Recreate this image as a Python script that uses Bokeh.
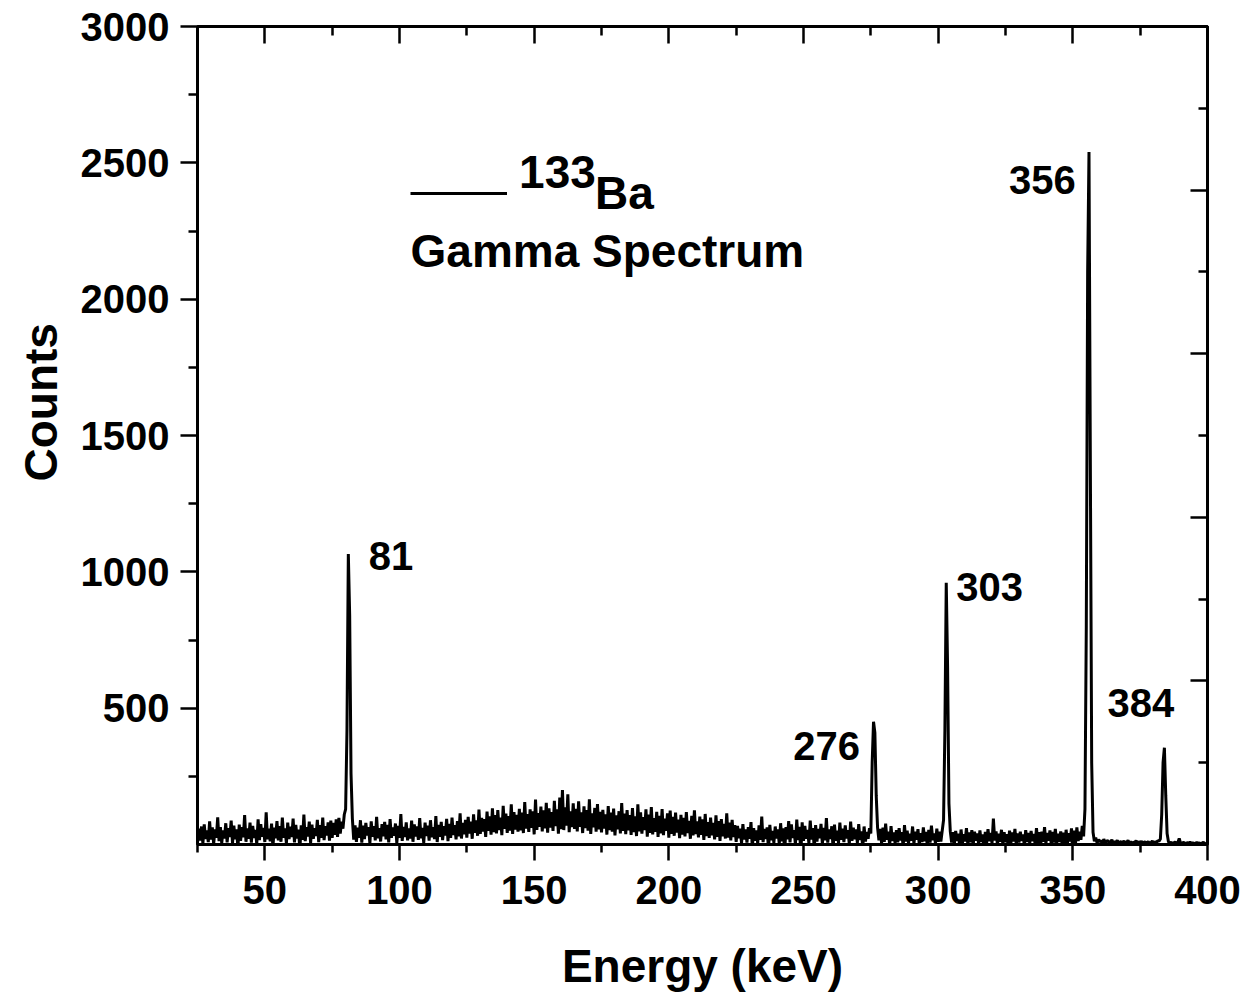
from bokeh.plotting import figure
from bokeh.models import Range1d, LinearAxis, FixedTicker, Label, Legend, LegendItem, Title
from bokeh.embed import file_html
from bokeh.resources import INLINE

FONT = "Liberation Sans"

# 133Ba gamma spectrum: counts per 0.5 keV channel, first channel at 25 keV
E_START = 25.0
E_STEP = 0.5
counts = [
    6, 58, 14, 66, 3, 74, 20, 52, 9, 85, 18, 63, 2, 55, 25, 100, 12, 64, 5, 52,
    22, 78, 8, 60, 27, 88, 4, 69, 19, 56, -14, 73, 13, 64, 26, 108, 10, 59, 21, 80,
    7, 68, 24, 54, 1, 92, 16, 75, 28, 61, 9, 118, 19, 58, 12, 77, -10, 62, 23, 86,
    15, 67, 10, 99, 25, 59, 4, 80, 20, 65, 27, 95, 8, 72, 22, 55, -18, 70, 17, 110,
    12, 64, 29, 84, 6, 73, 21, 60, 31, 90, 9, 71, 24, 99, 16, 67, 33, 81, 14, 88,
    24, 79, 35, 92, 28, 98, 40, 84, 58, 110, 130, 420, 1065, 840, 260, 95, 18, 70, 10, 62,
    25, 89, 7, 69, 20, 79, 33, 64, 4, 85, 28, 67, 15, 101, 23, 60, 11, 75, 30, 83,
    19, 72, 8, 93, 25, 63, 32, 77, 5, 68, 24, 112, 13, 65, 27, 81, 15, 59, 22, 88,
    10, 74, 29, 66, 17, 97, 23, 61, 6, 80, 31, 69, 14, 89, 26, 64, 20, 104, 9, 72,
    28, 83, 16, 67, 33, 94, 12, 76, 24, 99, 35, 71, 19, 86, 30, 114, 22, 79, 37, 90,
    25, 101, 40, 84, 21, 111, 43, 88, 32, 128, 39, 98, 47, 93, 28, 121, 50, 103, 36, 133,
    45, 108, 41, 126, 53, 99, 34, 142, 57, 113, 43, 104, 51, 147, 39, 119, 55, 109, 47, 131,
    52, 117, 42, 156, 58, 111, 46, 129, 61, 122, 37, 165, 54, 115, 65, 139, 48, 125, 59, 153,
    43, 133, 62, 119, 50, 160, 67, 129, 40, 172, 56, 200, 53, 136, 69, 184, 45, 122, 64, 151,
    57, 131, 48, 158, 65, 118, 42, 140, 60, 126, 51, 166, 39, 114, 63, 134, 47, 148, 55, 120,
    44, 127, 58, 111, 36, 141, 53, 117, 47, 132, 33, 107, 56, 122, 41, 152, 50, 113, 38, 126,
    52, 108, 35, 134, 45, 103, 31, 147, 48, 118, 40, 100, 53, 129, 29, 110, 43, 137, 37, 97,
    46, 120, 28, 105, 41, 130, 34, 95, 50, 114, 25, 124, 39, 101, 32, 117, 44, 91, 23, 109,
    36, 98, 30, 119, 42, 87, 21, 105, 33, 125, 38, 85, 26, 102, 35, 92, 17, 112, 31, 82,
    24, 99, 34, 79, 19, 107, 28, 86, 13, 93, 30, 76, 22, 114, 25, 80, 15, 90, 27, 71,
    10, 68, 23, 58, 4, 75, 18, 55, 7, 64, 21, 82, -14, 60, 14, 52, 3, 70, 17, 102,
    9, 57, 20, 63, -22, 72, 15, 50, 6, 66, 22, 55, 1, 78, 12, 59, -30, 64, 19, 86,
    8, 74, 24, 53, 0, 91, 16, 65, -38, 81, 13, 68, 21, 54, 5, 88, 18, 60, -16, 71,
    11, 57, 23, 76, 2, 61, 15, 97, 7, 55, 20, 67, -19, 73, 14, 51, 4, 80, 17, 58,
    9, 70, 22, 53, 1, 84, 13, 62, 19, 55, 6, 75, 16, 48, -12, 66, 11, 46, 21, 60,
    40, 300, 450, 410, 180, 62, 15, 57, 3, 62, 10, 77, 17, 47, -2, 67, 13, 44, 5, 53,
    8, 60, 15, 45, -9, 71, 11, 51, 4, 40, 14, 66, 2, 47, 17, 56, -3, 42, 9, 63,
    12, 46, -10, 54, 7, 69, 16, 41, 3, 58, 10, 47, 11, 50, 90, 420, 960, 650, 150, 48,
    7, 45, 0, 50, 13, 40, -8, 55, 5, 38, 11, 60, 1, 44, 8, 53, -3, 47, 14, 41,
    3, 52, 9, 37, -13, 46, 6, 56, 12, 42, 4, 95, 15, 48, -1, 40, 10, 54, 2, 45,
    8, 38, -7, 51, 5, 44, 11, 57, 0, 41, 7, 47, 13, 37, -4, 53, 9, 42, 4, 50,
    12, 39, 1, 60, 6, 45, -11, 47, 10, 64, 3, 42, 14, 52, -2, 46, 7, 57, 5, 40,
    9, 48, 2, 44, -26, 54, 6, 41, 11, 59, -35, 51, 4, 63, 13, 47, 17, 68, 30, 130,
    800, 2100, 2540, 1400, 300, 45, 12, 25, 6, 18, 10, 14, 3, 20, 8, 11, 15, 5, 9, 17,
    4, 12, 7, 16, 2, 10, 9, 6, 13, 3, 8, 15, 5, 11, 1, 9, 7, 14, 4, 10,
    6, 12, 3, 9, 8, 5, 11, 2, 7, 13, 4, 10, 6, 14, 12, 20, 110, 300, 355, 180,
    40, 10, 5, 8, 3, 6, 9, 4, 7, 22, 5, 3, 8, 6, 2, 7, 5, 9, 4, 6,
    3, 5, 7, 4, 6, 2, 5, 8, 4, 3, 5,
]
energy = [E_START + E_STEP * i for i in range(len(counts))]

# photopeak energies (keV) written next to each line
peak_labels = ["81", "276", "303", "356", "384"]

x_major = [50, 100, 150, 200, 250, 300, 350, 400]
x_minor = [25, 75, 125, 175, 225, 275, 325, 375]
y_major = [500, 1000, 1500, 2000, 2500, 3000]
y_minor = [250, 750, 1250, 1750, 2250, 2750]
frame_major = [0, 2, 4, 6, 8, 10]
frame_minor = [1, 3, 5, 7, 9]

p = figure(
    width=1248, height=994,
    x_range=Range1d(25, 400), y_range=Range1d(0, 3000),
    output_backend="svg", toolbar_location=None,
    min_border_left=197, min_border_right=41,
    min_border_top=26, min_border_bottom=149,
)
p.grid.visible = False
p.background_fill_color = "white"
p.border_fill_color = "white"
p.outline_line_color = "black"
p.outline_line_width = 3

spec = p.line(energy, counts, line_color="black", line_width=3)


def style_axis(ax, ticks, minor, inward, major_len=17, minor_len=9, labels=True):
    ax.ticker = FixedTicker(ticks=ticks, minor_ticks=minor)
    ax.axis_line_color = "black"
    ax.axis_line_width = 3
    ax.major_tick_line_color = "black"
    ax.minor_tick_line_color = "black"
    ax.major_tick_line_width = 2.5
    ax.minor_tick_line_width = 2.5
    if inward:
        ax.major_tick_in, ax.major_tick_out = major_len, 0
        ax.minor_tick_in, ax.minor_tick_out = minor_len, 0
    else:
        ax.major_tick_in, ax.major_tick_out = 0, major_len
        ax.minor_tick_in, ax.minor_tick_out = 0, minor_len
    ax.major_label_text_font = FONT
    ax.major_label_text_font_style = "bold"
    if labels:
        ax.major_label_text_color = "black"
        ax.major_label_text_font_size = "40px"
    else:
        # frame-only axis: ticks without numbers
        ax.major_label_text_color = None
        ax.major_label_text_font_size = "10px"
        ax.major_label_standoff = 0


xb = p.xaxis[0]
style_axis(xb, x_major, x_minor, inward=False, major_len=16, minor_len=8)
xb.major_label_standoff = 15
xb.axis_label = "Energy (keV)"
xb.axis_label_text_font = FONT
xb.axis_label_text_font_style = "bold"
xb.axis_label_text_font_size = "46px"
xb.axis_label_text_color = "black"
xb.axis_label_standoff = 33

yl = p.yaxis[0]
style_axis(yl, y_major, y_minor, inward=False)
yl.major_label_standoff = 11

top = LinearAxis()
style_axis(top, x_major, x_minor, inward=True, labels=False)
p.add_layout(top, "above")

p.extra_y_ranges = {"frame": Range1d(0, 10)}
right = LinearAxis(y_range_name="frame")
style_axis(right, frame_major, frame_minor, inward=True, labels=False)
p.add_layout(right, "right")

# y-axis title, starting a little above the middle of the frame
p.add_layout(Title(
    text="Counts", align="left", offset=363, standoff=22,
    text_font=FONT, text_font_style="bold", text_font_size="46px", text_color="black",
), "left")

# peak annotations
peak_pos = [
    (88.6, 1059, "left"),
    (271.0, 363, "right"),
    (306.7, 945, "left"),
    (351.1, 2436, "right"),
    (375.3, 520, "center"),
]
for txt, (lx, ly, align) in zip(peak_labels, peak_pos):
    p.add_layout(Label(
        x=lx, y=ly, text=txt, text_align=align, text_baseline="middle",
        text_font=FONT, text_font_style="bold", text_font_size="40px", text_color="black",
    ))

# legend: line sample + "Ba", with the mass number as a superscript
legend = Legend(
    items=[LegendItem(label="Ba", renderers=[spec])],
    location=(213, 624),
    glyph_width=97, glyph_height=20, label_standoff=88,
    padding=0, margin=0, spacing=0,
    border_line_color=None, background_fill_alpha=0,
    label_text_font=FONT, label_text_font_style="bold",
    label_text_font_size="46px", label_text_color="black",
)
p.add_layout(legend)

p.add_layout(Label(
    x=144.4, y=2465, text="133", text_align="left", text_baseline="middle",
    text_font=FONT, text_font_style="bold", text_font_size="46px", text_color="black",
))
p.add_layout(Label(
    x=104.1, y=2176, text="Gamma Spectrum", text_align="left", text_baseline="middle",
    text_font=FONT, text_font_style="bold", text_font_size="46px", text_color="black",
))

open("out.html", "w").write(file_html(p, INLINE))
